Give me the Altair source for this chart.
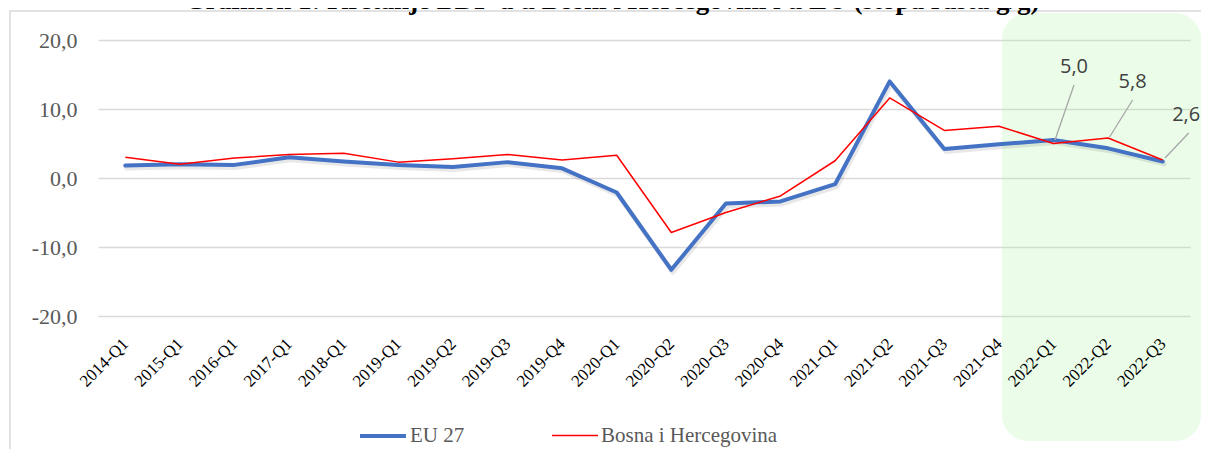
import json
import altair as alt
import pandas as pd

# ---------------- data ----------------
categories = ["2014-Q1", "2015-Q1", "2016-Q1", "2017-Q1", "2018-Q1", "2019-Q1",
              "2019-Q2", "2019-Q3", "2019-Q4", "2020-Q1", "2020-Q2", "2020-Q3",
              "2020-Q4", "2021-Q1", "2021-Q2", "2021-Q3", "2021-Q4", "2022-Q1",
              "2022-Q2", "2022-Q3"]
eu27 = [1.8, 2.0, 1.9, 3.0, 2.4, 1.9, 1.6, 2.3, 1.4, -2.1, -13.3, -3.7,
        -3.4, -0.9, 14.0, 4.2, 4.9, 5.5, 4.3, 2.4]
bih = [3.0, 2.0, 2.9, 3.4, 3.6, 2.3, 2.8, 3.4, 2.6, 3.3, -7.9, -5.0,
       -2.6, 2.5, 11.6, 6.9, 7.5, 5.0, 5.8, 2.6]
series_names = ["EU 27", "Bosna i Hercegovina"]
series_colors = ["#4472C4", "#FF0000"]
series_widths = [4, 1.5]
y_ticks = [-20, -10, 0, 10, 20]
labelled_categories = ["2022-Q1", "2022-Q2", "2022-Q3"]   # BiH values with data labels
title_text = "Grafikon 1:  Kretanje BDP-a u Bosni i Hercegovini i u EU (stopa rasta g/g)"

# annotation styling (pixel offsets of label & leader line relative to the point)
label_style = {
    "2022-Q1": dict(dx=20.5, dy=-77, lx1=1.5, ly1=-3.5, lx2=20.5, ly2=-58.5),
    "2022-Q2": dict(dx=24.5, dy=-56, lx1=1.5, ly1=-1.0, lx2=24.5, ly2=-38.0),
    "2022-Q3": dict(dx=23.5, dy=-45, lx1=2.3, ly1=-2.0, lx2=26.0, ly2=-27.0),
}

rows = []
for name, vals in zip(series_names, [eu27, bih]):
    for i, (c, v) in enumerate(zip(categories, vals)):
        rows.append({"idx": i, "cat": c, "series": name, "value": v,
                     "label": f"{v:.1f}".replace(".", ",")})
df = pd.DataFrame(rows)

W, H = 1092, 276
SERIF = "Liberation Serif"

cat_js = json.dumps(categories)

x_enc = alt.X("idx:Q",
              scale=alt.Scale(domain=[-0.5, len(categories) - 0.5], nice=False, zero=False),
              axis=alt.Axis(values=list(range(len(categories))),
                            labelExpr=f"{cat_js}[datum.value]",
                            labelAngle=-45, labelAlign="right", labelBaseline="middle",
                            labelFont=SERIF, labelFontSize=17, labelColor="#000000",
                            labelPadding=25, grid=False, domain=False, ticks=False,
                            tickSize=0, title=None, zindex=1, labelOverlap=False))
y_enc = alt.Y("value:Q",
              scale=alt.Scale(domain=[-20, 20], nice=False, zero=False),
              axis=alt.Axis(values=y_ticks, labelExpr="datum.value + ',0'",
                            grid=True, gridColor="#D9D9D9", gridWidth=1.5,
                            domain=False, ticks=False, tickSize=0,
                            labelFont=SERIF, labelFontSize=22, labelColor="#595959",
                            labelPadding=21, title=None))

legend = alt.Legend(orient="none", legendX=260, legendY=371, direction="horizontal",
                    title=None, symbolType="stroke", symbolSize=2116,
                    labelFont=SERIF, labelFontSize=21, labelColor="#595959",
                    labelLimit=400, columnPadding=84, labelOffset=2)

color_enc = alt.Color("series:N", scale=alt.Scale(domain=series_names, range=series_colors),
                      legend=legend)
width_enc = alt.StrokeWidth("series:N", scale=alt.Scale(domain=series_names, range=series_widths),
                            legend=legend)

base = alt.Chart(df)

# green highlight box (decoration)
highlight = alt.Chart(pd.DataFrame({"k": [0]})).mark_rect(
    fill="#AFF7A7", opacity=0.25, cornerRadius=26
).encode(x=alt.value(904), x2=alt.value(1103), y=alt.value(-27), y2=alt.value(401))

frame = alt.Chart(pd.DataFrame({"k": [0]})).mark_rect(
    filled=False, stroke="#D9D9D9", strokeWidth=1.5
).encode(x=alt.value(-88), x2=alt.value(1125), y=alt.value(-29), y2=alt.value(430))

title = alt.Chart(pd.DataFrame({"t": [title_text]})).mark_text(
    font=SERIF, fontSize=27, fontWeight="bold", color="#000000",
    align="center", baseline="alphabetic"
).encode(x=alt.value(514), y=alt.value(-31), text="t:N")

shadow = base.transform_filter(alt.datum.series == "EU 27").mark_line(
    color="#000000", opacity=0.09, strokeWidth=5, xOffset=1.5, yOffset=2.5,
    strokeJoin="round", strokeCap="round"
).encode(x=x_enc, y=y_enc)

eu_line = base.transform_filter(alt.datum.series == "EU 27").mark_line(
    strokeJoin="round", strokeCap="round"
).encode(x=x_enc, y=y_enc, color=color_enc, strokeWidth=width_enc)

bih_line = base.transform_filter(alt.datum.series == "Bosna i Hercegovina").mark_line(
    strokeJoin="round"
).encode(x=x_enc, y=y_enc, color=color_enc, strokeWidth=width_enc)

layers = [highlight, frame, title, shadow, eu_line, bih_line]

for cat in labelled_categories:
    s = label_style[cat]
    sub = base.transform_filter(
        (alt.datum.series == "Bosna i Hercegovina") & (alt.datum.cat == cat))
    leader = sub.mark_rule(color="#A6A6A6", strokeWidth=1.3,
                           xOffset=s["lx1"], yOffset=s["ly1"],
                           x2Offset=s["lx2"], y2Offset=s["ly2"]).encode(
        x=x_enc, y=y_enc, x2=alt.X2("idx:Q"), y2=alt.Y2("value:Q"))
    txt = sub.mark_text(font="Open Sans", fontSize=20, color="#404040",
                        dx=s["dx"], dy=s["dy"], align="center", baseline="middle").encode(
        x=x_enc, y=y_enc, text="label:N")
    layers += [leader, txt]

chart = alt.layer(*layers).properties(
    width=W, height=H,
    autosize=alt.AutoSizeParams(type="none"),
    padding={"left": 90, "top": 32, "right": 11, "bottom": 133},
    background="white",
).configure_view(strokeWidth=0)

chart.save("out.html", embed_options={"renderer": "svg", "actions": False})
